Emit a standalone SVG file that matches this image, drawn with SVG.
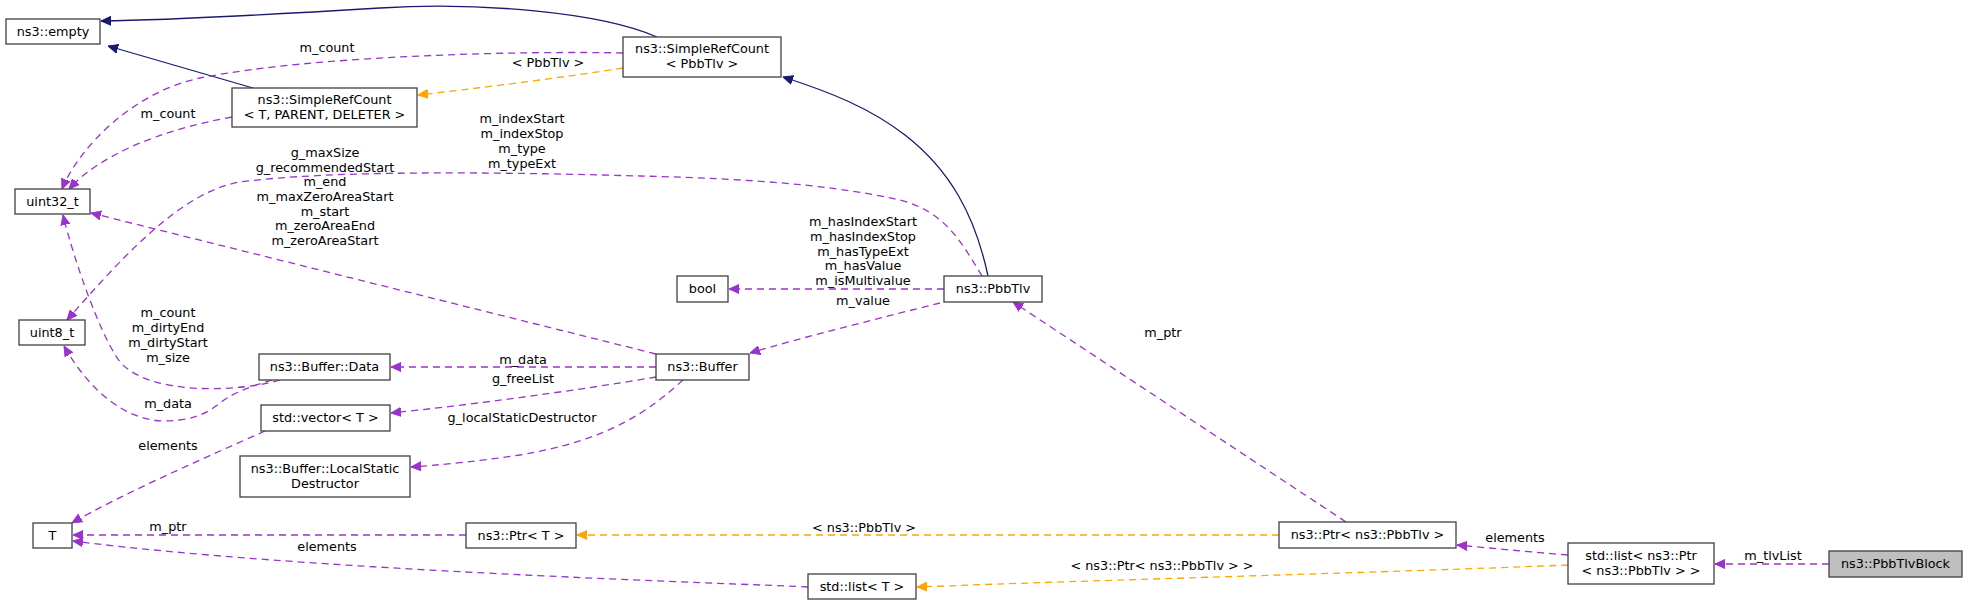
<svg xmlns="http://www.w3.org/2000/svg" width="1968" height="605" viewBox="0 0 1968 605">
<style>
  text { font-family: "DejaVu Sans", "Liberation Sans", sans-serif; font-size: 12.8px; fill: #000; }
  .n rect { fill: #fff; stroke: #404040; stroke-width: 1.3; }
  .n.root rect { fill: #bfbfbf; }
  .n text { text-anchor: middle; }
  .lbl text { text-anchor: middle; }
  .inh { fill: none; stroke: #191970; stroke-width: 1.3; }
  .use { fill: none; stroke: #9a32cd; stroke-width: 1.3; stroke-dasharray: 7,5; }
  .tpl { fill: none; stroke: #ffa500; stroke-width: 1.3; stroke-dasharray: 7,5; }
</style>
<defs>
  <marker id="aInh" viewBox="0 0 10 10" refX="10" refY="5" markerWidth="10" markerHeight="10" markerUnits="userSpaceOnUse" orient="auto">
    <path d="M0,0.5 L10,5 L0,9.5 Z" fill="#191970" stroke="#191970"/>
  </marker>
  <marker id="aUse" viewBox="0 0 10 10" refX="10" refY="5" markerWidth="10" markerHeight="10" markerUnits="userSpaceOnUse" orient="auto">
    <path d="M0,0.5 L10,5 L0,9.5 Z" fill="#9a32cd" stroke="#9a32cd"/>
  </marker>
  <marker id="aTpl" viewBox="0 0 10 10" refX="10" refY="5" markerWidth="10" markerHeight="10" markerUnits="userSpaceOnUse" orient="auto">
    <path d="M0,0.5 L10,5 L0,9.5 Z" fill="#ffa500" stroke="#ffa500"/>
  </marker>
</defs>
<rect width="1968" height="605" fill="#fff"/>

<g id="connectors">
  <!-- inheritance -->
  <path class="inh" marker-end="url(#aInh)" d="M657,37 C600,12 480,2 380,8 C280,14 170,20 101,21"/>
  <path class="inh" marker-end="url(#aInh)" d="M253,88 L108,46"/>
  <path class="inh" marker-end="url(#aInh)" d="M988,276 C975,215 950,170 905,135 C870,108 830,92 783,77"/>
  <!-- template -->
  <path class="tpl" marker-end="url(#aTpl)" d="M623,68 C560,78 480,88 418,95"/>
  <path class="tpl" marker-end="url(#aTpl)" d="M1279,535 L577,535"/>
  <path class="tpl" marker-end="url(#aTpl)" d="M1568,565 C1400,572 1100,580 917,587"/>
  <!-- usage -->
  <path class="use" marker-end="url(#aUse)" d="M623,53 C540,51 320,54 200,78 C130,93 78,150 62,189"/>
  <path class="use" marker-end="url(#aUse)" d="M232,117 C160,130 100,155 69,189"/>
  <path class="use" marker-end="url(#aUse)" d="M982,276 C960,240 945,212 900,200 C820,182 720,178 640,176 C500,172 330,170 240,182 C180,192 120,260 67,320"/>
  <path class="use" marker-end="url(#aUse)" d="M656,354 L91,213"/>
  <path class="use" marker-end="url(#aUse)" d="M280,380 C240,392 150,396 120,362 C100,335 74,260 63,215"/>
  <path class="use" marker-end="url(#aUse)" d="M272,380 C245,388 230,395 220,403 C205,415 190,421 163,421 C128,420 92,395 64,346"/>
  <path class="use" marker-end="url(#aUse)" d="M656,367 L391,367"/>
  <path class="use" marker-end="url(#aUse)" d="M656,377 C580,390 470,405 391,413"/>
  <path class="use" marker-end="url(#aUse)" d="M683,380 C650,410 610,440 520,455 C480,461 440,465 411,467"/>
  <path class="use" marker-end="url(#aUse)" d="M944,289 L729,289"/>
  <path class="use" marker-end="url(#aUse)" d="M940,303 C880,318 800,338 750,353"/>
  <path class="use" marker-end="url(#aUse)" d="M1346,522 L1013,302"/>
  <path class="use" marker-end="url(#aUse)" d="M466,535 L73,535"/>
  <path class="use" marker-end="url(#aUse)" d="M808,587 C700,582 300,570 73,541"/>
  <path class="use" marker-end="url(#aUse)" d="M265,431 C200,460 120,495 72,523"/>
  <path class="use" marker-end="url(#aUse)" d="M1568,555 C1530,552 1490,548 1457,545"/>
  <path class="use" marker-end="url(#aUse)" d="M1829,564 L1715,564"/>
</g>

<g id="labels" class="lbl">
  <text x="327" y="52">m_count</text>
  <text x="548" y="67">&lt; PbbTlv &gt;</text>
  <text x="168" y="118">m_count</text>
  <text x="522" y="123">m_indexStart</text>
  <text x="522" y="138">m_indexStop</text>
  <text x="522" y="153">m_type</text>
  <text x="522" y="168">m_typeExt</text>
  <text x="325" y="157">g_maxSize</text>
  <text x="325" y="172">g_recommendedStart</text>
  <text x="325" y="186">m_end</text>
  <text x="325" y="201">m_maxZeroAreaStart</text>
  <text x="325" y="216">m_start</text>
  <text x="325" y="230">m_zeroAreaEnd</text>
  <text x="325" y="245">m_zeroAreaStart</text>
  <text x="168" y="317">m_count</text>
  <text x="168" y="332">m_dirtyEnd</text>
  <text x="168" y="347">m_dirtyStart</text>
  <text x="168" y="362">m_size</text>
  <text x="863" y="226">m_hasIndexStart</text>
  <text x="863" y="241">m_hasIndexStop</text>
  <text x="863" y="256">m_hasTypeExt</text>
  <text x="863" y="270">m_hasValue</text>
  <text x="863" y="285">m_isMultivalue</text>
  <text x="863" y="305">m_value</text>
  <text x="523" y="364">m_data</text>
  <text x="523" y="383">g_freeList</text>
  <text x="168" y="408">m_data</text>
  <text x="522" y="422">g_localStaticDestructor</text>
  <text x="168" y="450">elements</text>
  <text x="168" y="531">m_ptr</text>
  <text x="327" y="551">elements</text>
  <text x="1163" y="337">m_ptr</text>
  <text x="864" y="532">&lt; ns3::PbbTlv &gt;</text>
  <text x="1162" y="570">&lt; ns3::Ptr&lt; ns3::PbbTlv &gt; &gt;</text>
  <text x="1515" y="542">elements</text>
  <text x="1773" y="560">m_tlvList</text>
</g>

<g id="node-empty" class="n"><rect x="6" y="19" width="94" height="25"/><text x="53" y="36">ns3::empty</text></g>
<g id="node-src-tpd" class="n"><rect x="232" y="88" width="185" height="39"/><text x="324.5" y="104">ns3::SimpleRefCount</text><text x="324.5" y="119">&lt; T, PARENT, DELETER &gt;</text></g>
<g id="node-src-pbbtlv" class="n"><rect x="623" y="37" width="158" height="40"/><text x="702" y="53">ns3::SimpleRefCount</text><text x="702" y="68">&lt; PbbTlv &gt;</text></g>
<g id="node-uint32" class="n"><rect x="15" y="189" width="75" height="25"/><text x="52.5" y="206">uint32_t</text></g>
<g id="node-uint8" class="n"><rect x="19" y="320" width="66" height="25"/><text x="52" y="337">uint8_t</text></g>
<g id="node-bool" class="n"><rect x="677" y="276" width="51" height="26"/><text x="702.5" y="293">bool</text></g>
<g id="node-pbbtlv" class="n"><rect x="944" y="276" width="98" height="26"/><text x="993" y="293">ns3::PbbTlv</text></g>
<g id="node-buffer" class="n"><rect x="656" y="354" width="93" height="26"/><text x="702.5" y="371">ns3::Buffer</text></g>
<g id="node-bufdata" class="n"><rect x="259" y="354" width="131" height="26"/><text x="324.5" y="371">ns3::Buffer::Data</text></g>
<g id="node-vector" class="n"><rect x="261" y="405" width="129" height="26"/><text x="325.5" y="422">std::vector&lt; T &gt;</text></g>
<g id="node-lsd" class="n"><rect x="240" y="456" width="170" height="41"/><text x="325" y="473">ns3::Buffer::LocalStatic</text><text x="325" y="488">Destructor</text></g>
<g id="node-T" class="n"><rect x="33" y="523" width="39" height="25"/><text x="52.5" y="540">T</text></g>
<g id="node-ptrT" class="n"><rect x="466" y="523" width="110" height="25"/><text x="521" y="540">ns3::Ptr&lt; T &gt;</text></g>
<g id="node-listT" class="n"><rect x="808" y="574" width="108" height="25"/><text x="862" y="591">std::list&lt; T &gt;</text></g>
<g id="node-ptrPbbTlv" class="n"><rect x="1279" y="522" width="177" height="26"/><text x="1367.5" y="539">ns3::Ptr&lt; ns3::PbbTlv &gt;</text></g>
<g id="node-listPtr" class="n"><rect x="1568" y="543" width="146" height="41"/><text x="1641" y="560">std::list&lt; ns3::Ptr</text><text x="1641" y="575">&lt; ns3::PbbTlv &gt; &gt;</text></g>
<g id="node-block" class="n root"><rect x="1829" y="551" width="133" height="26"/><text x="1895.5" y="568">ns3::PbbTlvBlock</text></g>
</svg>
